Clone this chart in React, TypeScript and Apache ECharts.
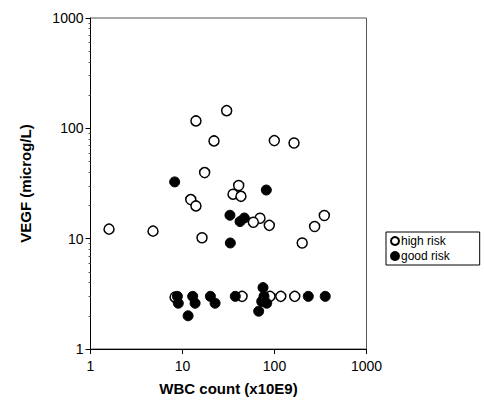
import React, { useEffect, useRef } from "react";
import * as echarts from "echarts";

const highRiskWBC = [30.2, 14.0, 22.0, 99.5, 163, 17.4, 40.8, 35.4, 43.2, 12.3, 14.0, 69.6, 58.9, 87.8, 348, 273, 1.59, 4.78, 16.3, 200, 8.3, 44.4, 89.4, 117, 166];
const highRiskVEGF = [144.6, 116.7, 76.9, 77.4, 73.7, 39.7, 30.3, 25.3, 24.2, 22.6, 19.8, 15.3, 14.1, 13.2, 16.2, 12.9, 12.2, 11.7, 10.2, 9.14, 2.95, 3.0, 3.0, 3.0, 3.0];

const goodRiskWBC = [8.22, 81.5, 32.8, 47.0, 42.2, 33.1, 8.8, 9.0, 12.9, 13.7, 11.5, 20.1, 22.6, 37.5, 75, 76.9, 72.6, 82.3, 67.3, 233, 356];
const goodRiskVEGF = [32.7, 27.6, 16.3, 15.4, 14.3, 9.14, 3.0, 2.6, 3.0, 2.6, 2.0, 3.0, 2.6, 3.0, 3.6, 3.0, 2.7, 2.6, 2.2, 3.0, 3.0];

const seriesNames = ["high risk", "good risk"];
const xTitle = "WBC count (x10E9)";
const yTitle = "VEGF (microg/L)";
const tickLabels: Record<number, string> = { 1: "1", 10: "10", 100: "100", 1000: "1000" };

const zip = (a: number[], b: number[]) => a.map((v, i) => [v, b[i]]);

export default function App() {
  const ref = useRef<HTMLDivElement>(null);
  useEffect(() => {
    if (!ref.current) return;
    const chart = echarts.init(ref.current, undefined, { renderer: "svg" });
    const font = "Liberation Sans, Arial, sans-serif";
    const fmt = (v: number) => tickLabels[Math.round(v)] ?? String(Math.round(v));
    chart.setOption({
      animation: false,
      backgroundColor: "#fff",
      grid: {
        left: 90.5,
        top: 18,
        width: 276,
        height: 331,
        show: true,
        borderColor: "#555",
        borderWidth: 1,
        backgroundColor: "transparent",
      },
      legend: {
        orient: "vertical",
        left: 386,
        top: 232,
        data: seriesNames,
        icon: "circle",
        itemWidth: 8,
        itemHeight: 8,
        itemGap: 3,
        padding: [3, 30, 3, 4],
        borderColor: "#000",
        borderWidth: 1,
        textStyle: { fontFamily: font, fontSize: 12, color: "#000", padding: [0, 0, 0, -3] },
      },
      xAxis: {
        type: "log",
        logBase: 10,
        min: 1,
        max: 1000,
        name: xTitle,
        nameLocation: "middle",
        nameGap: 32,
        nameTextStyle: { fontFamily: font, fontSize: 15, fontWeight: "bold", color: "#000" },
        axisLine: { show: true, lineStyle: { color: "#000", width: 1 } },
        axisTick: { show: true, length: 5, lineStyle: { color: "#000" } },
        axisLabel: { fontFamily: font, fontSize: 14, color: "#000", margin: 10, formatter: fmt },
        splitLine: { show: false },
      },
      yAxis: {
        type: "log",
        logBase: 10,
        min: 1,
        max: 1000,
        name: yTitle,
        nameLocation: "middle",
        nameGap: 58,
        nameRotate: 90,
        nameTextStyle: { fontFamily: font, fontSize: 15, fontWeight: "bold", color: "#000" },
        axisLine: { show: true, lineStyle: { color: "#000", width: 1 } },
        axisTick: { show: true, length: 5, lineStyle: { color: "#000" } },
        minorTick: { show: true, splitNumber: 9, length: 2, lineStyle: { color: "#555" } },
        axisLabel: { fontFamily: font, fontSize: 14, color: "#000", margin: 7, formatter: fmt },
        splitLine: { show: false },
      },
      series: [
        {
          name: seriesNames[0],
          type: "scatter",
          data: zip(highRiskWBC, highRiskVEGF),
          symbol: "circle",
          symbolSize: 10,
          itemStyle: { color: "#fff", borderColor: "#000", borderWidth: 1.5, opacity: 1 },
          emphasis: { disabled: true },
          z: 2,
        },
        {
          name: seriesNames[1],
          type: "scatter",
          data: zip(goodRiskWBC, goodRiskVEGF),
          symbol: "circle",
          symbolSize: 10,
          itemStyle: { color: "#000", borderColor: "#000", borderWidth: 1, opacity: 1 },
          emphasis: { disabled: true },
          z: 3,
        },
      ],
    });
    return () => chart.dispose();
  }, []);
  return (
    <div
      ref={ref}
      style={{ position: "fixed", left: 0, top: 0, width: 484, height: 414, background: "#fff" }}
    />
  );
}
